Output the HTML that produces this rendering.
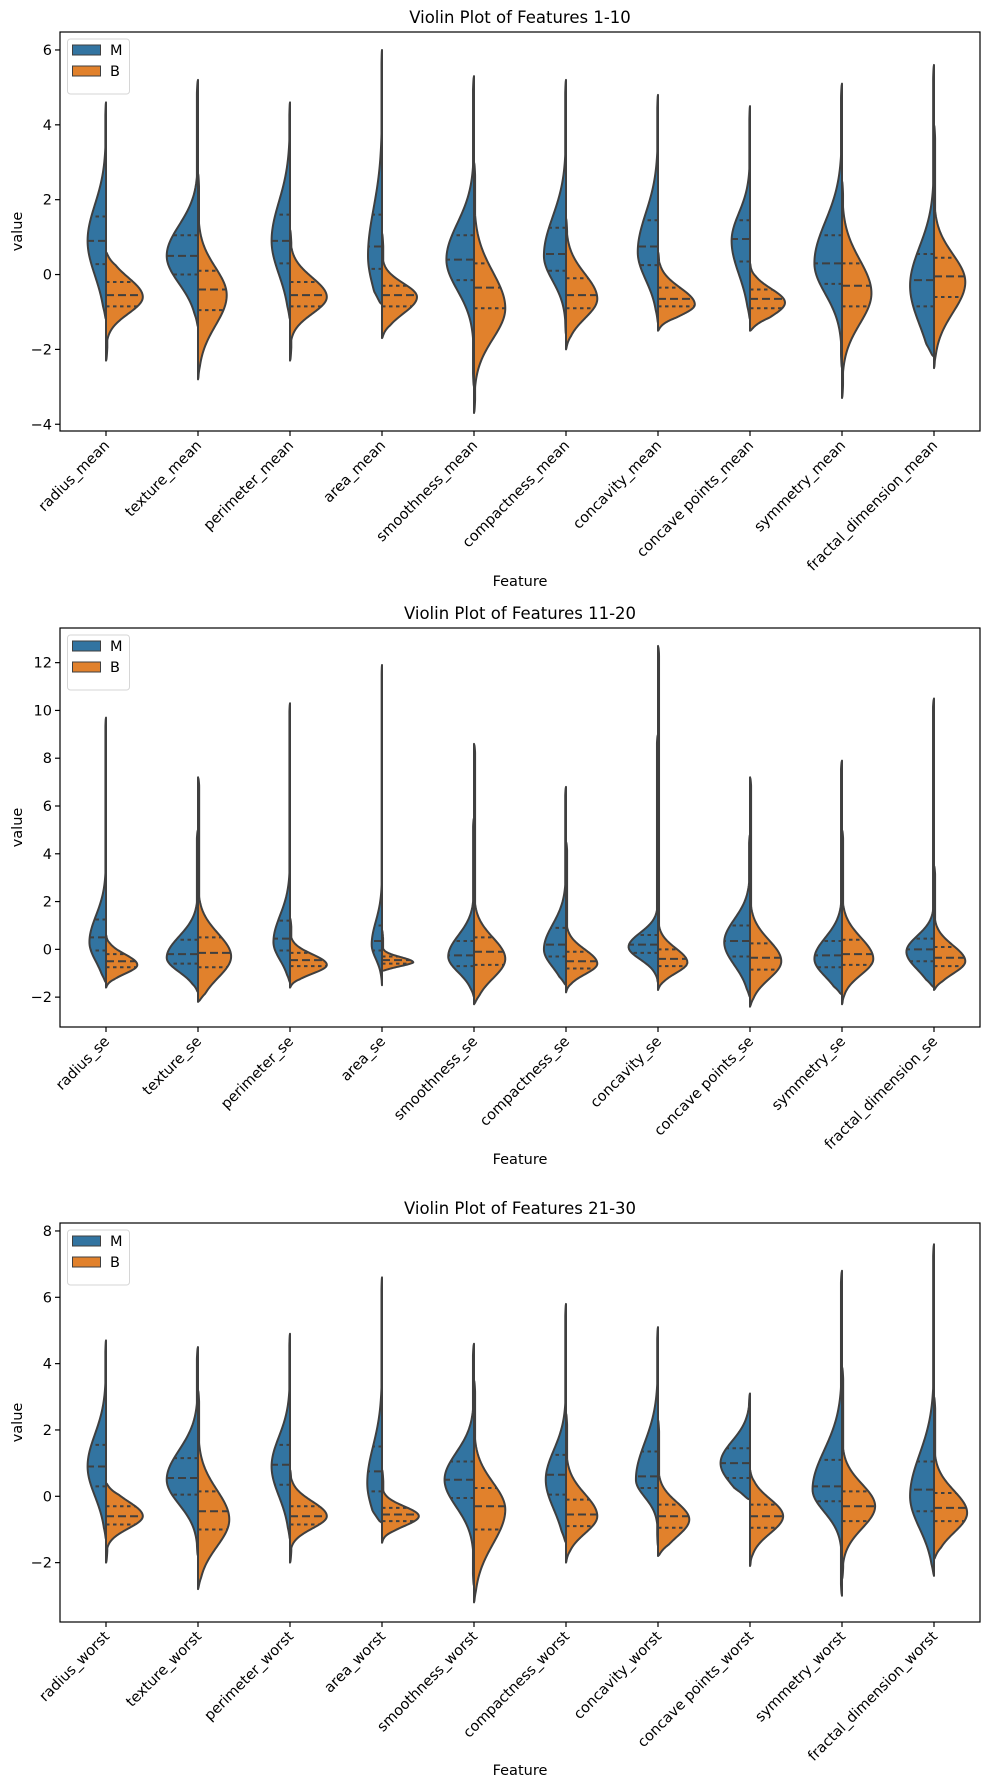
<!DOCTYPE html>
<html><head><meta charset="utf-8"><title>Violin plots</title>
<style>
html,body{margin:0;padding:0;background:#fff;}
svg{display:block;font-family:"DejaVu Sans","Liberation Sans",sans-serif;}
</style></head>
<body>
<svg id="fig" width="990" height="1790" viewBox="0 0 990 1790" xmlns="http://www.w3.org/2000/svg"></svg>
<script>
// ---- Panel 1 data (pairs are [M, B]) ----
const p1_categories = ["radius_mean","texture_mean","perimeter_mean","area_mean","smoothness_mean","compactness_mean","concavity_mean","concave points_mean","symmetry_mean","fractal_dimension_mean"];
const p1_lo   = [[-1.2,-2.3],[-1.4,-2.8],[-1.2,-2.3],[-0.8,-1.7],[-3.0,-3.7],[-1.6,-2.0],[-1.3,-1.5],[-1.2,-1.5],[-2.5,-3.3],[-2.2,-2.5]];
const p1_hi   = [[4.6,0.6],[5.2,2.7],[4.6,1.2],[6.0,1.1],[5.3,3.0],[5.2,1.5],[4.8,0.6],[4.5,0.3],[5.1,2.5],[5.6,4.0]];
const p1_q1   = [[0.28,-0.85],[0.0,-0.95],[0.3,-0.85],[0.15,-0.85],[-0.15,-0.9],[0.1,-0.9],[0.25,-0.85],[0.35,-0.9],[-0.25,-0.85],[-0.85,-0.6]];
const p1_med  = [[0.9,-0.55],[0.5,-0.4],[0.9,-0.55],[0.75,-0.55],[0.4,-0.35],[0.55,-0.55],[0.75,-0.65],[0.95,-0.65],[0.3,-0.3],[-0.15,-0.05]];
const p1_q3   = [[1.55,-0.2],[1.05,0.1],[1.6,-0.2],[1.6,-0.3],[1.05,0.3],[1.25,-0.1],[1.45,-0.35],[1.45,-0.4],[1.05,0.3],[0.55,0.45]];
const p1_mode = [[0.9,-0.6],[0.5,-0.55],[0.9,-0.6],[0.5,-0.6],[0.4,-0.9],[0.5,-0.65],[0.6,-0.8],[0.9,-0.75],[0.3,-0.5],[-0.3,-0.2]];
const p1_peak = [[0.5,1.0],[0.85,0.78],[0.5,1.0],[0.38,0.95],[0.75,0.85],[0.6,0.85],[0.55,1.0],[0.5,0.95],[0.75,0.8],[0.65,0.85]];
const p1_ticks = [-4,-2,0,2,4,6];

// ---- Panel 2 data ----
const p2_categories = ["radius_se","texture_se","perimeter_se","area_se","smoothness_se","compactness_se","concavity_se","concave points_se","symmetry_se","fractal_dimension_se"];
const p2_lo   = [[-1.4,-1.6],[-1.8,-2.2],[-1.4,-1.6],[-1.5,-0.9],[-2.0,-2.3],[-1.5,-1.8],[-1.4,-1.7],[-2.0,-2.4],[-1.9,-2.3],[-1.6,-1.7]];
const p2_hi   = [[9.7,0.6],[5.0,7.2],[10.3,1.3],[11.9,0.8],[5.5,8.6],[6.8,4.5],[9.0,12.7],[4.8,7.2],[7.9,5.0],[10.5,3.5]];
const p2_q1   = [[-0.05,-0.75],[-0.6,-0.75],[-0.05,-0.7],[-0.05,-0.6],[-0.7,-0.65],[-0.3,-0.8],[-0.15,-0.7],[-0.3,-0.85],[-0.75,-0.65],[-0.5,-0.7]];
const p2_med  = [[0.5,-0.5],[-0.2,-0.15],[0.45,-0.45],[0.35,-0.45],[-0.25,-0.1],[0.2,-0.5],[0.2,-0.4],[0.35,-0.35],[-0.25,-0.2],[0.0,-0.35]];
const p2_q3   = [[1.25,-0.2],[0.4,0.5],[1.2,-0.15],[1.0,-0.3],[0.35,0.5],[0.9,-0.1],[0.6,0.0],[1.0,0.25],[0.35,0.4],[0.45,0.1]];
const p2_mode = [[0.3,-0.65],[-0.35,-0.3],[0.3,-0.65],[0.2,-0.55],[-0.3,-0.4],[0.0,-0.6],[0.1,-0.55],[0.3,-0.5],[-0.4,-0.4],[-0.1,-0.5]];
const p2_peak = [[0.45,0.85],[0.85,0.9],[0.45,1.0],[0.28,0.85],[0.7,0.85],[0.6,0.85],[0.8,0.8],[0.7,0.85],[0.75,0.85],[0.75,0.85]];
const p2_ticks = [-2,0,2,4,6,8,10,12];

// ---- Panel 3 data ----
const p3_categories = ["radius_worst","texture_worst","perimeter_worst","area_worst","smoothness_worst","compactness_worst","concavity_worst","concave points_worst","symmetry_worst","fractal_dimension_worst"];
const p3_lo   = [[-1.3,-2.0],[-1.8,-2.8],[-1.3,-2.0],[-0.8,-1.4],[-2.7,-3.2],[-1.4,-2.0],[-1.5,-1.8],[-0.1,-2.1],[-3.0,-2.5],[-2.4,-1.9]];
const p3_hi   = [[4.7,0.4],[4.5,3.2],[4.9,0.8],[6.6,0.8],[4.6,3.5],[5.8,2.5],[5.1,2.3],[3.1,0.8],[6.8,3.9],[7.6,3.0]];
const p3_q1   = [[0.3,-0.85],[0.05,-1.0],[0.35,-0.85],[0.15,-0.75],[-0.05,-1.0],[0.05,-0.9],[0.25,-0.95],[0.55,-0.95],[-0.15,-0.75],[-0.45,-0.75]];
const p3_med  = [[0.9,-0.6],[0.55,-0.45],[0.95,-0.6],[0.75,-0.55],[0.5,-0.3],[0.65,-0.55],[0.6,-0.6],[1.0,-0.6],[0.3,-0.3],[0.2,-0.35]];
const p3_q3   = [[1.55,-0.3],[1.15,0.15],[1.55,-0.3],[1.5,-0.35],[1.05,0.25],[1.25,-0.1],[1.35,-0.25],[1.45,-0.25],[1.1,0.15],[1.05,0.1]];
const p3_mode = [[0.9,-0.6],[0.5,-0.7],[0.9,-0.6],[0.4,-0.6],[0.5,-0.4],[0.5,-0.6],[0.5,-0.7],[1.0,-0.6],[0.2,-0.3],[0.0,-0.5]];
const p3_peak = [[0.5,1.0],[0.85,0.85],[0.5,1.0],[0.4,1.0],[0.8,0.85],[0.55,0.85],[0.6,0.85],[0.8,0.9],[0.8,0.9],[0.65,0.9]];
const p3_ticks = [-2,0,2,4,6,8];

const NS = "http://www.w3.org/2000/svg";
const svg = document.getElementById("fig");
const COLORS = ["#3274a1", "#e1812c"];
const EDGE = "#3f3f3f";
const X0 = 60, X1 = 980;
const FS = 14.5;

function mk(tag, attrs, parent) {
  const e = document.createElementNS(NS, tag);
  for (const k in attrs) e.setAttribute(k, attrs[k]);
  (parent || svg).appendChild(e);
  return e;
}

function dens(v, d) {
  const sLo = Math.max(0.15, (d.med - d.q1) / 0.6745);
  const sHi = Math.max(0.15, (d.q3 - d.med) / 0.6745);
  const s = v < d.mode ? sLo : sHi;
  let g = Math.exp(-0.5 * Math.pow((v - d.mode) / s, 2));
  g = Math.max(g, 0.035);
  const t = Math.min(v - d.lo, d.hi - v);
  const tap = Math.max(0, Math.min(1, t / 0.35));
  return d.peak * g * Math.sqrt(tap);
}

function drawPanel(p) {
  const g = mk("g", {});
  
  
  const top = p.top, bot = p.top + 399;
  const yS = v => bot - (v - p.dmin) / (p.dmax - p.dmin) * (bot - top);
  const n = p.cats.length;
  const band = (X1 - X0) / n;
  const xS = i => X0 + band * (i + 0.5);
  const halfW = band * 0.4;

  const title = mk("text", {x: (X0 + X1) / 2, y: top - 9, "text-anchor": "middle", "font-size": "16.5", fill: "#000"}, g);
  title.textContent = p.title;
  
  

  for (let i = 0; i < n; i++) {
    const cx = xS(i);
    for (let h = 0; h < 2; h++) {
      const d = {lo: p.lo[i][h], hi: p.hi[i][h], q1: p.q1[i][h], med: p.med[i][h], q3: p.q3[i][h], mode: p.mode[i][h], peak: p.peak[i][h]};
      const sign = h === 0 ? -1 : 1;
      const N = 140;
      let path = "M" + cx.toFixed(2) + "," + yS(d.lo).toFixed(2);
      for (let k = 0; k <= N; k++) {
        const v = d.lo + (d.hi - d.lo) * k / N;
        const w = dens(v, d) * halfW;
        path += " L" + (cx + sign * w).toFixed(2) + "," + yS(v).toFixed(2);
      }
      path += " L" + cx.toFixed(2) + "," + yS(d.hi).toFixed(2) + " Z";
      const vp = mk("path", {d: path, fill: COLORS[h], stroke: EDGE, "stroke-width": "2", "stroke-linejoin": "round"}, g);
      
      
      const qs = [[d.q1, "3.5,3.5"], [d.med, "8,4"], [d.q3, "3.5,3.5"]];
      for (const [q, dash] of qs) {
        const w = dens(q, d) * halfW;
        const ln = mk("line", {x1: cx, x2: cx + sign * w, y1: yS(q), y2: yS(q), stroke: EDGE, "stroke-width": "2", "stroke-dasharray": dash}, g);
        
        
      }
    }
  }

  const fr = mk("rect", {x: X0, y: top, width: X1 - X0, height: bot - top, fill: "none", stroke: "#000", "stroke-width": "1.2"}, g);
  
  

  for (const t of p.ticks) {
    const y = yS(t);
    mk("line", {x1: X0 - 5, x2: X0, y1: y, y2: y, stroke: "#000", "stroke-width": "1.2"}, g);
    const tl = mk("text", {x: X0 - 8, y: y + 5, "text-anchor": "end", "font-size": FS, fill: "#000"}, g);
    tl.textContent = t < 0 ? "\u2212" + Math.abs(t) : String(t);
    
    
  }
  for (let i = 0; i < n; i++) {
    const x = xS(i);
    mk("line", {x1: x, x2: x, y1: bot, y2: bot + 5, stroke: "#000", "stroke-width": "1.2"}, g);
    const tl = mk("text", {x: x, y: bot + 17, "text-anchor": "end", "font-size": FS, fill: "#000", transform: "rotate(-45 " + x + " " + (bot + 11) + ")"}, g);
    tl.textContent = p.cats[i];
    
    
  }
  const yl = mk("text", {x: 0, y: 0, "text-anchor": "middle", "font-size": FS, fill: "#000", transform: "translate(22 " + ((top + bot) / 2) + ") rotate(-90)"}, g);
  yl.textContent = "value";
  
  
  const xl = mk("text", {x: (X0 + X1) / 2, y: p.xlabY, "text-anchor": "middle", "font-size": FS, fill: "#000"}, g);
  xl.textContent = "Feature";
  
  

  const lg = mk("g", {}, g);
  
  
  mk("rect", {x: 67.5, y: top + 7, width: 62, height: 55, rx: 3, fill: "#fff", "fill-opacity": "0.8", stroke: "#d6d6d6", "stroke-width": "1"}, lg);
  const labels = ["M", "B"];
  for (let h = 0; h < 2; h++) {
    const yy = top + 13 + h * 21;
    const sw = mk("rect", {x: 72.5, y: yy, width: 28, height: 10, fill: COLORS[h], stroke: EDGE, "stroke-width": "1"}, lg);
    
    
    const lt = mk("text", {x: 110, y: yy + 10, "font-size": FS, fill: "#000"}, lg);
    lt.textContent = labels[h];
    
    
  }
}

drawPanel({name: "panel-features-1-10", title: "Violin Plot of Features 1-10", top: 32, dmin: -4.18, dmax: 6.48, xlabY: 586,
  cats: p1_categories, lo: p1_lo, hi: p1_hi, q1: p1_q1, med: p1_med, q3: p1_q3, mode: p1_mode, peak: p1_peak, ticks: p1_ticks});
drawPanel({name: "panel-features-11-20", title: "Violin Plot of Features 11-20", top: 628, dmin: -3.25, dmax: 13.45, xlabY: 1164,
  cats: p2_categories, lo: p2_lo, hi: p2_hi, q1: p2_q1, med: p2_med, q3: p2_q3, mode: p2_mode, peak: p2_peak, ticks: p2_ticks});
drawPanel({name: "panel-features-21-30", title: "Violin Plot of Features 21-30", top: 1223, dmin: -3.79, dmax: 8.24, xlabY: 1775,
  cats: p3_categories, lo: p3_lo, hi: p3_hi, q1: p3_q1, med: p3_med, q3: p3_q3, mode: p3_mode, peak: p3_peak, ticks: p3_ticks});
</script>
</body></html>
